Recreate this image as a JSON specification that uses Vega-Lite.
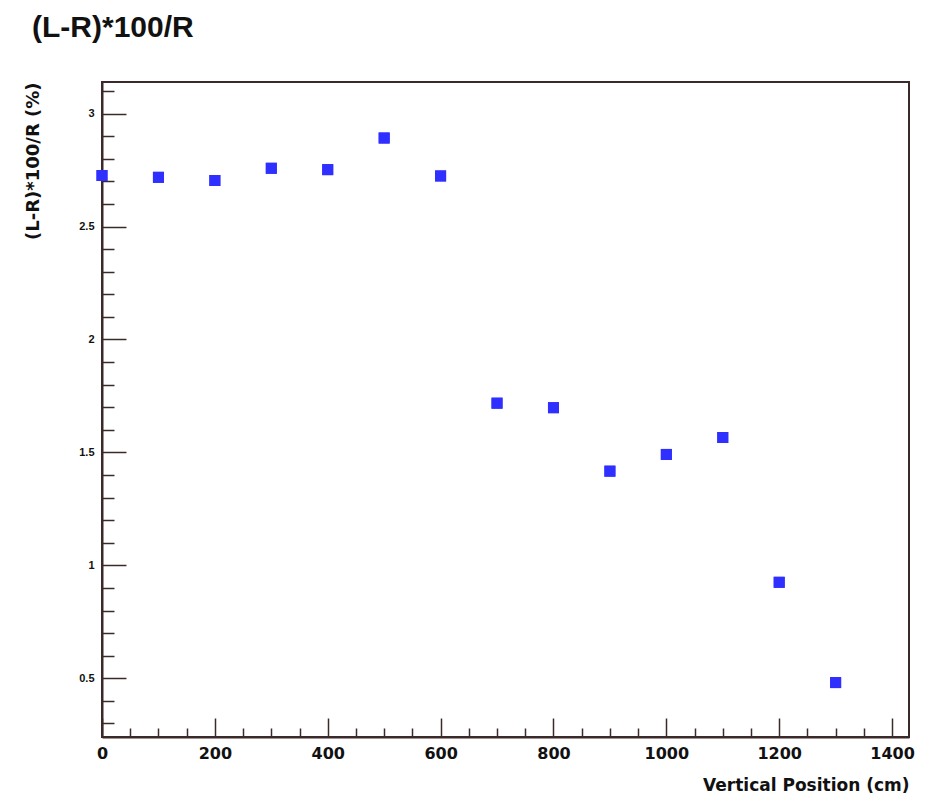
{
  "$schema": "https://vega.github.io/schema/vega-lite/v6.json",
  "autosize": {"type": "none"},
  "width": 807,
  "height": 655,
  "padding": {"left": 102, "top": 82, "right": 19, "bottom": 65},
  "background": "white",
  "title": {
    "text": "(L-R)*100/R",
    "anchor": "start",
    "frame": "group",
    "font": "Liberation Sans",
    "fontSize": 30,
    "fontWeight": "bold",
    "color": "#111111",
    "dx": -70,
    "dy": -35
  },
  "config": {
    "view": {"stroke": "#3a2a2a", "strokeWidth": 2},
    "axis": {
      "domainColor": "#3a2a2a",
      "domainWidth": 2,
      "tickColor": "#3a2a2a",
      "tickWidth": 1.5,
      "grid": false,
      "labelFont": "DejaVu Sans",
      "titleFont": "DejaVu Sans",
      "labelFontWeight": "bold",
      "titleFontWeight": "bold",
      "labelColor": "#111111",
      "titleColor": "#111111",
      "labelOverlap": false,
      "labelFlush": false
    }
  },
  "data": {
    "values": [
      {"pos": 0, "val": 2.726},
      {"pos": 100, "val": 2.718},
      {"pos": 200, "val": 2.704},
      {"pos": 300, "val": 2.758},
      {"pos": 400, "val": 2.752},
      {"pos": 500, "val": 2.892},
      {"pos": 600, "val": 2.724},
      {"pos": 700, "val": 1.718},
      {"pos": 800, "val": 1.698},
      {"pos": 900, "val": 1.417},
      {"pos": 1000, "val": 1.491},
      {"pos": 1100, "val": 1.566},
      {"pos": 1200, "val": 0.925},
      {"pos": 1300, "val": 0.481}
    ]
  },
  "resolve": {"axis": {"x": "independent", "y": "independent"}},
  "layer": [
    {
      "mark": {"type": "point", "shape": "square", "filled": true, "size": 121, "color": "#2f2fff", "opacity": 1},
      "encoding": {
        "x": {
          "field": "pos",
          "type": "quantitative",
          "scale": {"domain": [0, 1430], "nice": false, "zero": false},
          "axis": {
            "orient": "bottom",
            "title": "Vertical Position (cm)",
            "titleAnchor": "end",
            "titleFontSize": 17,
            "titlePadding": 16,
            "labelFontSize": 16,
            "labelPadding": 27,
            "tickSize": -19,
            "values": [0, 200, 400, 600, 800, 1000, 1200, 1400],
            "format": "d"
          }
        },
        "y": {
          "field": "val",
          "type": "quantitative",
          "scale": {"domain": [0.24, 3.14], "nice": false, "zero": false},
          "axis": {
            "orient": "left",
            "title": "(L-R)*100/R (%)",
            "titleAnchor": "end",
            "titleFontSize": 18,
            "titlePadding": 36,
            "labelFont": "Liberation Sans",
            "labelFontSize": 11,
            "labelPadding": 32,
            "tickSize": -24,
            "values": [0.5, 1, 1.5, 2, 2.5, 3],
            "format": "~g"
          }
        }
      }
    },
    {
      "mark": {"type": "point", "shape": "square", "filled": true, "size": 121, "color": "#2f2fff", "opacity": 1},
      "encoding": {
        "x": {
          "field": "pos",
          "type": "quantitative",
          "axis": {
            "orient": "bottom",
            "title": null,
            "labels": false,
            "domain": false,
            "tickSize": -9,
            "values": [50, 100, 150, 250, 300, 350, 450, 500, 550, 650, 700, 750, 850, 900, 950, 1050, 1100, 1150, 1250, 1300, 1350]
          }
        },
        "y": {
          "field": "val",
          "type": "quantitative",
          "axis": {
            "orient": "left",
            "title": null,
            "labels": false,
            "domain": false,
            "tickSize": -12,
            "values": [0.3, 0.4, 0.6, 0.7, 0.8, 0.9, 1.1, 1.2, 1.3, 1.4, 1.6, 1.7, 1.8, 1.9, 2.1, 2.2, 2.3, 2.4, 2.6, 2.7, 2.8, 2.9, 3.1]
          }
        }
      }
    }
  ]
}
